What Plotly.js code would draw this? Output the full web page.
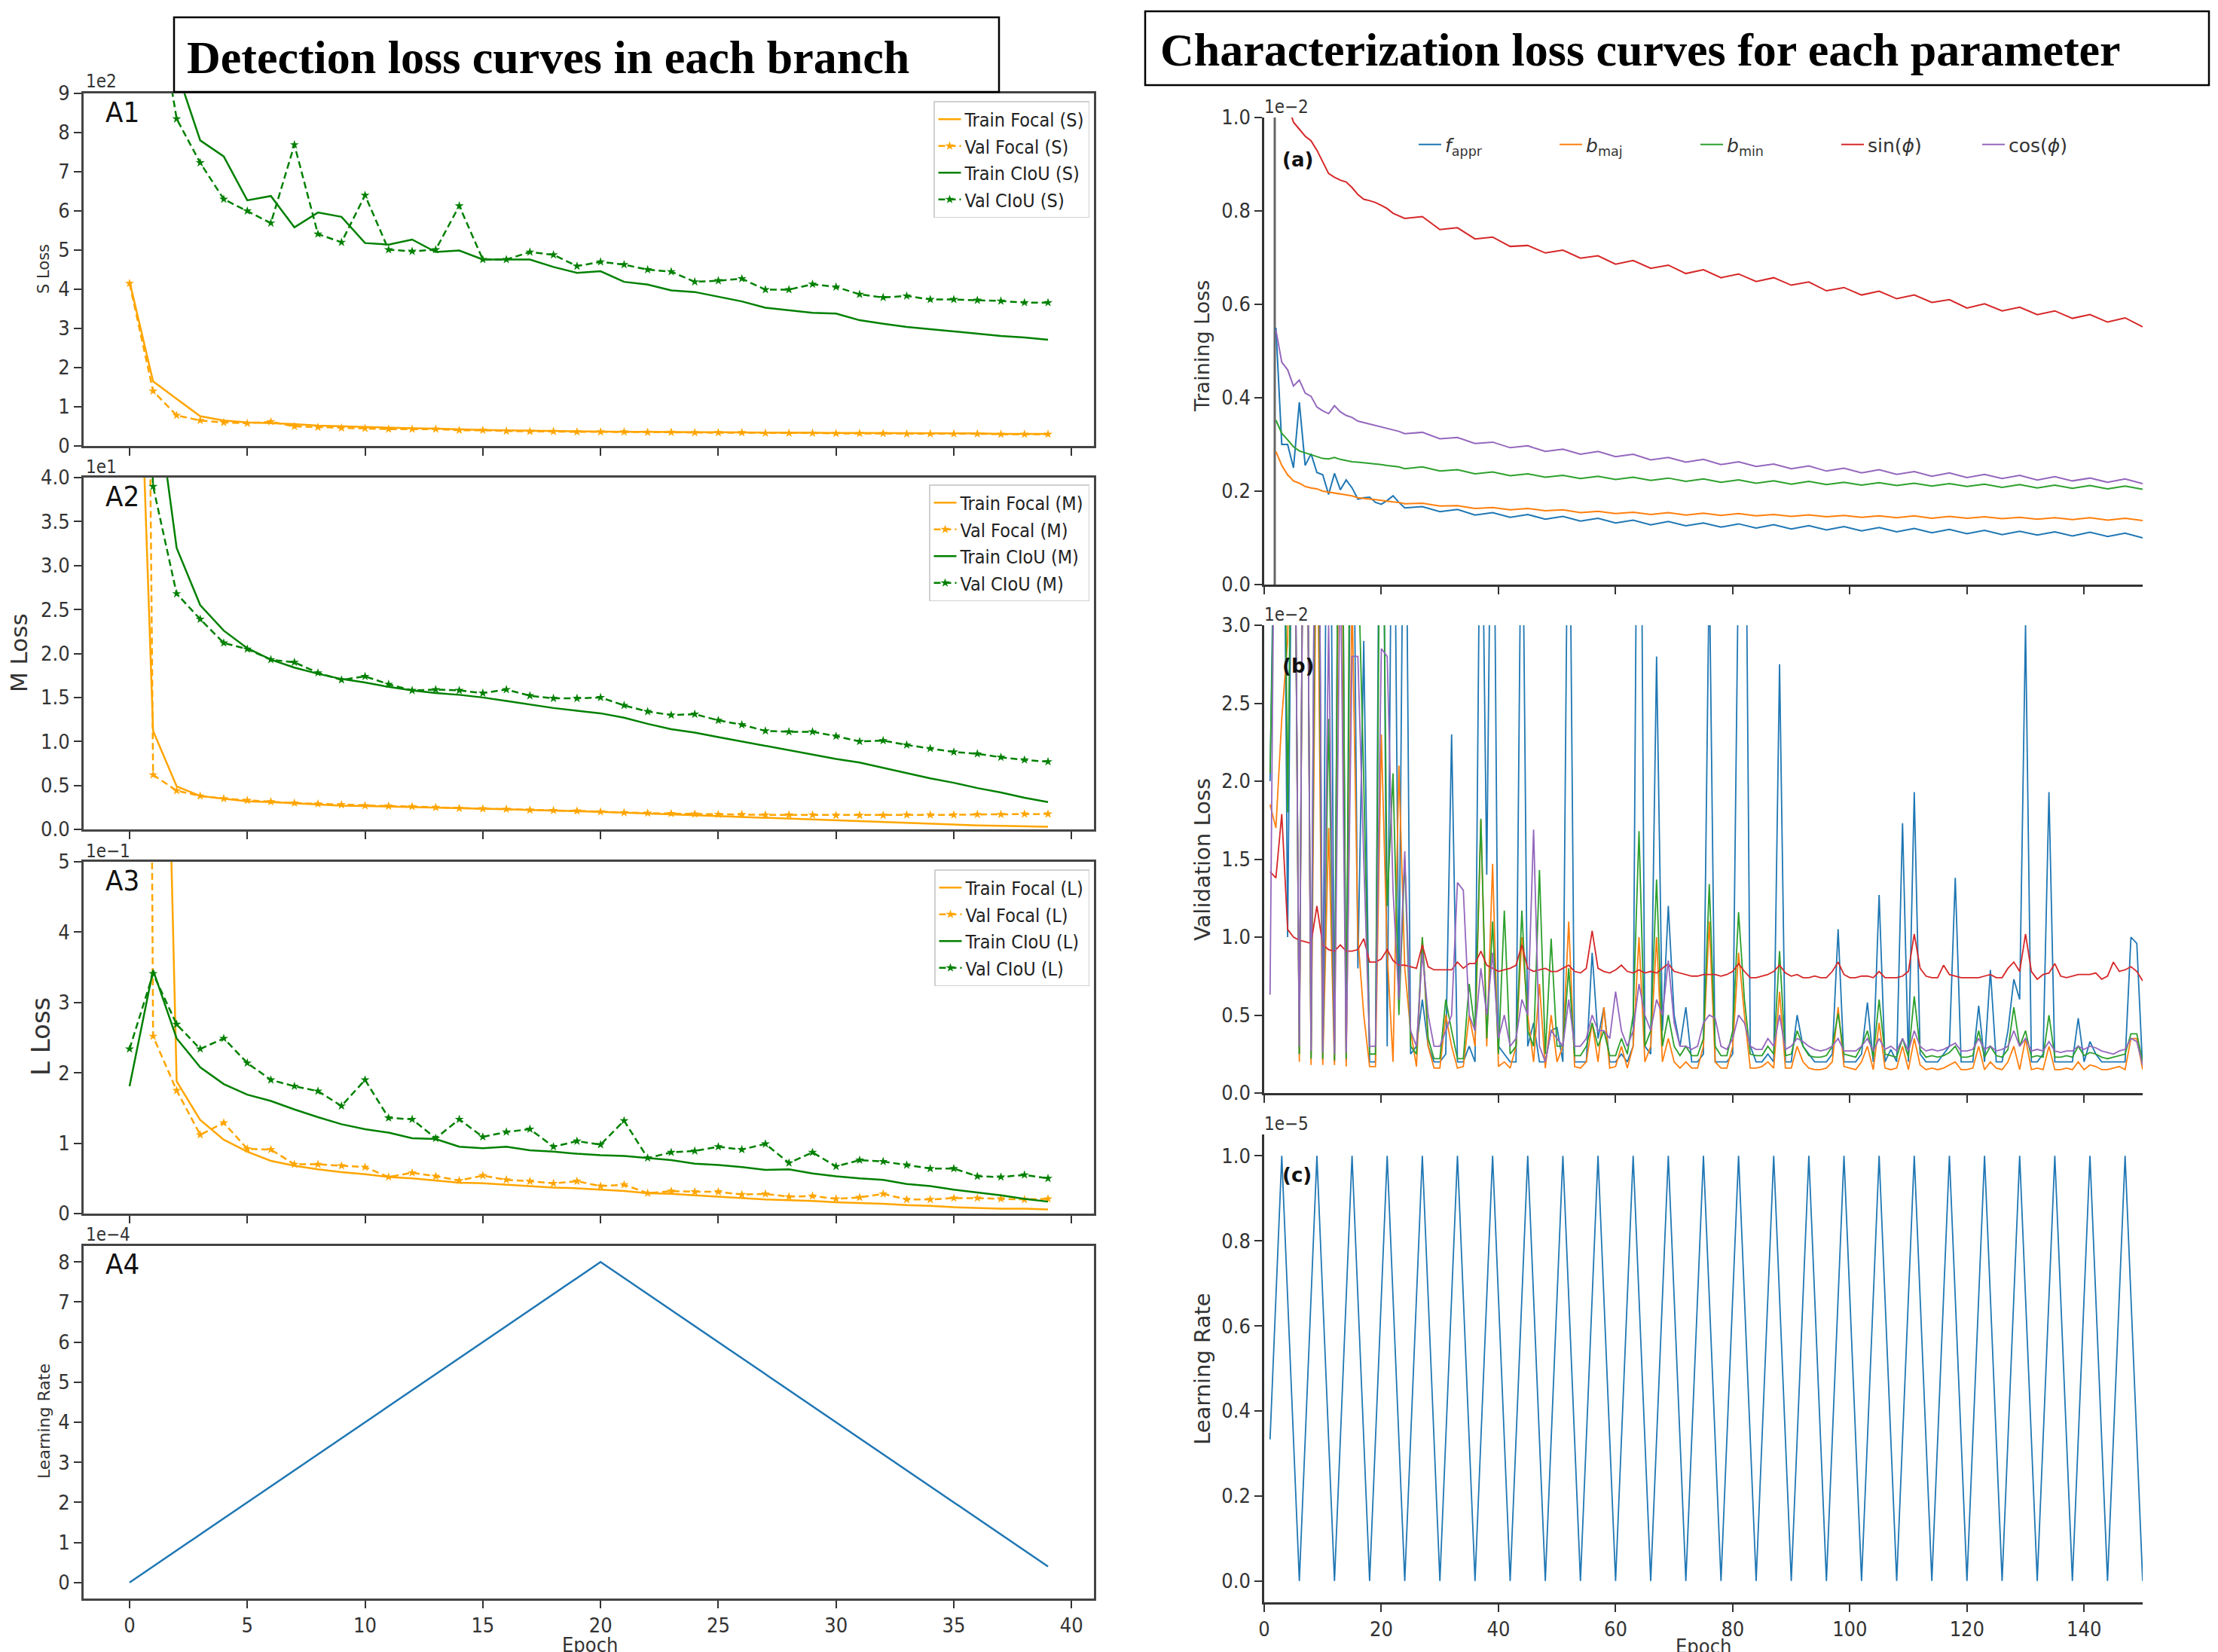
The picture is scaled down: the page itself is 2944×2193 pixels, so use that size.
<!DOCTYPE html>
<html><head><meta charset="utf-8">
<script src="https://cdn.plot.ly/plotly-3.0.1.min.js"></script>
<style>html,body{margin:0;padding:0;background:#fff;overflow:hidden}#chart{width:2944px;height:2193px}</style>
</head><body><div id="chart"></div>
<script>
// ---------------- DATA ----------------
const leftEpochs = [0,1,2,3,4,5,6,7,8,9,10,11,12,13,14,15,16,17,18,19,20,21,22,23,24,25,26,27,28,29,30,31,32,33,34,35,36,37,38,39];
const leftTickVals = [0,5,10,15,20,25,30,35,40];

// A1 : S branch (units of 1e2)
const sTrainFocal = [4.2,1.65,1.2,0.76,0.65,0.6,0.58,0.56,0.52,0.5,0.48,0.46,0.45,0.44,0.42,0.41,0.4,0.39,0.38,0.37,0.37,0.36,0.36,0.35,0.35,0.35,0.34,0.34,0.34,0.33,0.33,0.33,0.33,0.32,0.32,0.32,0.32,0.31,0.31,0.31];
const sValFocal = [4.15,1.4,0.78,0.65,0.6,0.58,0.62,0.5,0.48,0.46,0.45,0.43,0.43,0.43,0.4,0.4,0.38,0.37,0.37,0.36,0.36,0.36,0.35,0.35,0.34,0.34,0.34,0.33,0.33,0.33,0.32,0.32,0.32,0.31,0.31,0.31,0.31,0.3,0.3,0.3];
const sTrainCIoU = [14,11,9.6,7.8,7.39,6.27,6.38,5.58,5.96,5.85,5.18,5.14,5.27,4.95,4.99,4.76,4.76,4.76,4.57,4.42,4.46,4.19,4.12,3.97,3.93,3.81,3.69,3.53,3.47,3.4,3.38,3.21,3.12,3.04,2.98,2.92,2.86,2.81,2.77,2.71];
const sValCIoU = [16,12,8.35,7.23,6.3,6.0,5.69,7.69,5.41,5.2,6.4,5.01,4.97,5.01,6.13,4.76,4.76,4.95,4.88,4.59,4.7,4.63,4.5,4.45,4.19,4.22,4.27,3.99,3.99,4.13,4.06,3.87,3.79,3.83,3.74,3.74,3.72,3.7,3.66,3.66];

// A2 : M branch (units of 1e1)
const mTrainFocal = [9.0,1.12,0.49,0.38,0.35,0.32,0.31,0.295,0.286,0.27,0.265,0.26,0.25,0.245,0.24,0.235,0.23,0.22,0.215,0.21,0.2,0.19,0.18,0.17,0.16,0.15,0.14,0.13,0.12,0.11,0.1,0.09,0.08,0.07,0.06,0.05,0.045,0.04,0.035,0.03];
const mValFocal = [30,0.62,0.44,0.38,0.35,0.33,0.315,0.3,0.29,0.28,0.27,0.265,0.26,0.25,0.24,0.235,0.23,0.22,0.215,0.21,0.2,0.19,0.185,0.18,0.175,0.17,0.17,0.165,0.165,0.165,0.16,0.16,0.16,0.165,0.165,0.165,0.17,0.17,0.175,0.175];
const mTrainCIoU = [8.0,5.2,3.2,2.55,2.26,2.06,1.93,1.84,1.77,1.71,1.67,1.62,1.58,1.55,1.53,1.5,1.46,1.42,1.38,1.35,1.32,1.27,1.2,1.14,1.1,1.05,1.0,0.95,0.9,0.85,0.8,0.76,0.7,0.64,0.58,0.53,0.47,0.42,0.36,0.31];
const mValCIoU = [10,3.9,2.68,2.39,2.12,2.05,1.93,1.9,1.78,1.7,1.74,1.65,1.58,1.59,1.58,1.55,1.59,1.52,1.49,1.49,1.5,1.41,1.34,1.3,1.31,1.24,1.19,1.12,1.11,1.11,1.06,1.0,1.01,0.96,0.92,0.88,0.86,0.82,0.79,0.77];

// A3 : L branch (units of 1e-1)
const lTrainFocal = [20,16,1.88,1.33,1.05,0.88,0.75,0.68,0.63,0.59,0.56,0.52,0.5,0.47,0.44,0.43,0.41,0.39,0.37,0.36,0.34,0.32,0.29,0.28,0.26,0.24,0.22,0.2,0.19,0.18,0.16,0.15,0.14,0.12,0.11,0.09,0.08,0.07,0.07,0.06];
const lValFocal = [60,2.52,1.75,1.12,1.29,0.92,0.91,0.7,0.7,0.68,0.66,0.52,0.58,0.53,0.47,0.54,0.48,0.46,0.43,0.46,0.39,0.41,0.29,0.32,0.31,0.31,0.27,0.28,0.24,0.25,0.21,0.23,0.28,0.2,0.2,0.22,0.22,0.21,0.2,0.21];
const lTrainCIoU = [1.81,3.46,2.49,2.08,1.84,1.69,1.6,1.48,1.37,1.27,1.2,1.15,1.07,1.06,0.95,0.93,0.95,0.9,0.88,0.85,0.83,0.82,0.79,0.76,0.71,0.69,0.66,0.62,0.63,0.57,0.53,0.5,0.48,0.42,0.39,0.34,0.3,0.26,0.21,0.17];
const lValCIoU = [2.34,3.41,2.69,2.34,2.49,2.14,1.9,1.81,1.74,1.53,1.9,1.36,1.34,1.07,1.34,1.09,1.16,1.2,0.95,1.03,0.98,1.32,0.79,0.87,0.89,0.95,0.91,0.99,0.72,0.87,0.67,0.76,0.74,0.69,0.64,0.64,0.53,0.52,0.55,0.5];

// A4 : detection learning rate (units of 1e-4)
const detLR = [0,0.4,0.8,1.2,1.6,2,2.4,2.8,3.2,3.6,4,4.4,4.8,5.2,5.6,6,6.4,6.8,7.2,7.6,8,7.6,7.2,6.8,6.4,6,5.6,5.2,4.8,4.4,4,3.6,3.2,2.8,2.4,2,1.6,1.2,0.8,0.4];

// (a) characterization training loss (units of 1e-2)
const aEpochs = [2,3,4,5,6,7,8,9,10,11,12,13,14,15,16,17,18,19,20,21,22,23,24,27,30,33,36,39,42,45,48,51,54,57,60,63,66,69,72,75,78,81,84,87,90,93,96,99,102,105,108,111,114,117,120,123,126,129,132,135,138,141,144,147,150];
const aFappr = [0.55,0.30,0.30,0.25,0.39,0.255,0.28,0.24,0.235,0.193,0.238,0.203,0.224,0.207,0.183,0.186,0.187,0.176,0.172,0.18,0.19,0.176,
 0.164,0.167,0.156,0.161,0.149,0.154,0.144,0.150,0.140,0.146,0.136,0.142,0.132,0.138,0.128,0.135,0.126,0.132,0.123,0.130,0.121,0.128,0.119,0.126,0.117,0.124,0.115,0.122,0.113,0.120,0.111,0.118,0.109,0.116,0.107,0.114,0.106,0.113,0.104,0.112,0.103,0.110,0.100];
const aBmaj = [0.285,0.255,0.235,0.222,0.217,0.21,0.207,0.205,0.2,0.198,0.196,0.194,0.192,0.19,0.186,0.184,0.183,0.182,0.18,0.178,0.177,0.176,
 0.173,0.174,0.168,0.169,0.163,0.165,0.160,0.163,0.158,0.160,0.154,0.157,0.152,0.155,0.150,0.154,0.149,0.153,0.148,0.152,0.147,0.150,0.146,0.149,0.145,0.148,0.144,0.147,0.143,0.147,0.142,0.146,0.142,0.145,0.141,0.144,0.140,0.143,0.139,0.143,0.138,0.142,0.137];
const aBmin = [0.352,0.324,0.31,0.295,0.286,0.282,0.279,0.275,0.27,0.269,0.272,0.268,0.265,0.263,0.262,0.261,0.26,0.258,0.257,0.255,0.253,0.252,
 0.248,0.252,0.243,0.246,0.237,0.241,0.233,0.237,0.230,0.234,0.227,0.232,0.225,0.230,0.223,0.228,0.221,0.226,0.219,0.224,0.217,0.222,0.215,0.221,0.214,0.219,0.213,0.218,0.212,0.217,0.211,0.216,0.210,0.215,0.208,0.214,0.207,0.213,0.206,0.212,0.205,0.211,0.204];
const aSin = [1.25,1.12,1.03,0.99,0.975,0.96,0.95,0.93,0.905,0.88,0.872,0.866,0.862,0.85,0.835,0.825,0.822,0.818,0.812,0.805,0.795,0.79,
 0.784,0.788,0.760,0.764,0.740,0.744,0.724,0.726,0.710,0.716,0.699,0.704,0.686,0.694,0.677,0.684,0.666,0.674,0.657,0.665,0.649,0.657,0.641,0.648,0.629,0.636,0.620,0.628,0.612,0.620,0.604,0.610,0.592,0.601,0.586,0.594,0.578,0.586,0.570,0.578,0.562,0.571,0.552];
const aCos = [0.545,0.476,0.46,0.425,0.438,0.41,0.403,0.38,0.372,0.366,0.383,0.37,0.362,0.358,0.35,0.347,0.344,0.34,0.338,0.335,0.332,0.328,
 0.323,0.326,0.312,0.315,0.302,0.305,0.293,0.297,0.285,0.290,0.279,0.285,0.274,0.279,0.267,0.272,0.262,0.268,0.257,0.263,0.253,0.258,0.248,0.254,0.243,0.249,0.239,0.246,0.236,0.242,0.232,0.239,0.229,0.236,0.227,0.234,0.224,0.231,0.222,0.228,0.219,0.226,0.216];
const aStartEpoch = [1.8,1.8];
const aStartSpan = [0,1.0];

// (b) & (c) epochs
const epochs150 = [1,2,3,4,5,6,7,8,9,10,11,12,13,14,15,16,17,18,19,20,21,22,23,24,25,26,27,28,29,30,31,32,33,34,35,36,37,38,39,40,41,42,43,44,45,46,47,48,49,50,51,52,53,54,55,56,57,58,59,60,61,62,63,64,65,66,67,68,69,70,71,72,73,74,75,76,77,78,79,80,81,82,83,84,85,86,87,88,89,90,91,92,93,94,95,96,97,98,99,100,101,102,103,104,105,106,107,108,109,110,111,112,113,114,115,116,117,118,119,120,121,122,123,124,125,126,127,128,129,130,131,132,133,134,135,136,137,138,139,140,141,142,143,144,145,146,147,148,149,150];

// (b) validation loss (units of 1e-2)
const bFappr = [2.0,4.5,6.0,1.0,5.0,0.25,6.0,0.22,6.0,0.21,
 6.0,0.2,6.0,0.2,5.0,0.8,2.9,0.2,0.2,6.0,
 0.3,5.0,0.6,5.0,0.25,0.3,0.6,0.3,0.2,0.2,
 0.25,2.3,0.2,0.2,0.3,0.2,4.5,1.4,5.0,0.3,
 0.25,0.2,0.2,4.3,0.3,0.45,0.2,0.2,0.4,0.42,
 0.2,4.6,0.2,0.2,0.2,0.9,0.35,0.55,0.2,0.2,
 0.25,0.2,0.3,6.0,0.3,0.25,2.8,0.4,1.2,0.5,
 0.3,0.55,0.2,0.2,0.25,3.4,0.2,0.2,0.2,0.25,
 3.5,5.0,0.3,0.2,0.2,0.25,0.2,2.75,0.2,0.2,
 0.5,0.3,0.25,0.2,0.2,0.2,0.25,1.05,0.2,0.2,
 0.2,0.25,0.58,0.2,1.27,0.2,0.28,0.2,1.73,0.2,
 1.93,0.25,0.2,0.2,0.2,0.25,0.3,1.38,0.2,0.2,
 0.2,0.56,0.2,0.79,0.2,0.2,0.4,0.73,0.6,3.0,
 0.2,0.2,0.25,1.93,0.2,0.2,0.2,0.2,0.48,0.2,
 0.33,0.25,0.2,0.2,0.2,0.2,0.2,1.0,0.96,0.15];
const bBmaj = [1.85,1.7,2.4,2.9,5.0,0.2,6.0,0.18,4.0,0.18,
 1.7,0.18,5.0,0.17,3.2,1.0,0.5,0.17,0.17,2.3,
 0.9,0.2,2.1,0.8,0.4,0.17,1.0,0.3,0.16,0.16,
 0.5,0.3,0.16,0.17,0.5,0.3,1.75,0.3,1.47,0.17,
 0.2,0.16,0.3,1.0,0.5,0.2,0.7,0.16,0.5,0.2,
 0.3,1.1,0.17,0.16,0.2,0.45,0.2,0.55,0.16,0.17,
 0.3,0.16,0.3,1.0,0.2,0.3,1.0,0.2,0.35,0.2,
 0.16,0.2,0.16,0.16,0.3,1.1,0.2,0.16,0.16,0.3,
 0.9,0.5,0.16,0.16,0.17,0.2,0.16,0.65,0.16,0.16,
 0.3,0.2,0.16,0.15,0.15,0.16,0.2,0.55,0.17,0.16,
 0.15,0.2,0.3,0.15,0.45,0.16,0.15,0.16,0.3,0.15,
 0.35,0.18,0.15,0.16,0.15,0.16,0.18,0.2,0.15,0.15,
 0.16,0.3,0.15,0.2,0.16,0.15,0.2,0.3,0.15,0.35,
 0.15,0.16,0.15,0.3,0.15,0.15,0.16,0.15,0.2,0.15,
 0.18,0.17,0.15,0.15,0.16,0.17,0.15,0.35,0.35,0.15];
const bBmin = [2.05,3.5,6.0,1.8,5.0,0.25,6.0,0.22,5.0,0.22,
 2.4,0.21,6.0,0.22,6.0,3.5,2.0,0.25,0.25,5.0,
 1.2,2.05,0.5,1.5,0.3,0.25,1.0,0.35,0.22,0.22,
 0.6,0.4,0.22,0.22,0.7,0.4,1.76,0.35,1.1,0.25,
 1.17,0.25,0.3,1.17,0.4,0.3,1.43,0.25,0.99,0.3,
 0.3,0.8,0.24,0.24,0.3,0.45,0.3,0.4,0.24,0.24,
 0.35,0.25,0.5,1.68,0.3,0.4,1.37,0.3,0.5,0.3,
 0.24,0.3,0.24,0.24,0.35,1.34,0.3,0.24,0.24,0.4,
 1.16,0.6,0.25,0.24,0.24,0.3,0.25,0.91,0.24,0.25,
 0.4,0.3,0.24,0.23,0.23,0.24,0.3,0.51,0.25,0.24,
 0.23,0.3,0.4,0.23,0.6,0.25,0.24,0.23,0.35,0.23,
 0.62,0.28,0.23,0.24,0.23,0.24,0.26,0.3,0.23,0.23,
 0.24,0.4,0.23,0.3,0.24,0.23,0.28,0.55,0.3,0.4,
 0.23,0.24,0.23,0.5,0.23,0.23,0.24,0.23,0.3,0.24,
 0.26,0.25,0.23,0.22,0.23,0.24,0.25,0.38,0.38,0.2];
const bSin = [1.42,1.38,1.79,1.05,1.0,0.98,0.97,0.96,1.2,0.95,
 0.92,0.91,0.95,0.91,0.91,0.92,0.99,0.84,0.84,0.86,
 0.92,0.85,0.82,0.82,0.81,0.8,0.95,0.81,0.79,0.79,
 0.79,0.79,0.84,0.8,0.83,0.83,0.91,0.82,0.8,0.78,
 0.79,0.8,0.82,0.95,0.8,0.78,0.79,0.8,0.78,0.78,
 0.8,0.82,0.78,0.77,0.8,1.04,0.8,0.78,0.77,0.79,
 0.82,0.78,0.77,0.79,0.77,0.78,0.77,0.8,0.83,0.78,
 0.77,0.76,0.75,0.75,0.76,0.76,0.76,0.75,0.76,0.78,
 0.83,0.78,0.74,0.74,0.75,0.76,0.78,0.82,0.77,0.75,
 0.76,0.74,0.74,0.75,0.74,0.74,0.78,0.84,0.76,0.74,
 0.74,0.75,0.75,0.74,0.78,0.74,0.74,0.74,0.75,0.78,
 1.02,0.8,0.75,0.74,0.74,0.82,0.76,0.75,0.74,0.74,
 0.74,0.74,0.75,0.76,0.74,0.74,0.8,0.84,0.78,1.02,
 0.78,0.73,0.76,0.77,0.83,0.75,0.74,0.75,0.76,0.76,
 0.76,0.77,0.73,0.75,0.84,0.78,0.79,0.81,0.78,0.72];
const bCos = [0.63,5.0,6.0,5.0,5.0,0.3,6.0,0.27,6.0,0.26,
 3.0,0.25,3.5,0.26,2.8,2.8,1.5,0.3,0.3,2.85,
 2.8,1.3,0.6,1.55,0.4,0.3,0.9,0.5,0.3,0.3,
 0.4,0.5,1.35,1.3,0.5,0.4,0.8,0.5,0.9,0.35,
 0.5,0.3,0.35,0.6,0.5,1.69,0.3,0.2,0.4,0.35,
 0.3,0.6,0.3,0.3,0.35,0.5,0.4,0.4,0.35,0.65,
 0.4,0.3,0.4,0.7,0.5,0.4,0.6,0.5,0.85,0.45,
 0.3,0.3,0.28,0.3,0.45,0.5,0.48,0.3,0.28,0.35,
 0.5,0.45,0.3,0.28,0.28,0.35,0.3,0.5,0.28,0.3,
 0.35,0.33,0.3,0.28,0.27,0.28,0.3,0.35,0.27,0.27,
 0.27,0.3,0.35,0.27,0.35,0.28,0.3,0.27,0.35,0.27,
 0.4,0.3,0.27,0.28,0.27,0.28,0.3,0.32,0.27,0.27,
 0.28,0.35,0.28,0.3,0.27,0.28,0.3,0.4,0.3,0.35,
 0.27,0.28,0.27,0.33,0.27,0.26,0.27,0.27,0.3,0.28,
 0.3,0.29,0.27,0.26,0.25,0.27,0.28,0.35,0.33,0.18];

// (c) characterization learning rate (units of 1e-5)
const cLR = [0.333,0.667,1,0.667,0.333,0, 0.333,0.667,1,0.667,0.333,0, 0.333,0.667,1,0.667,0.333,0, 0.333,0.667,1,0.667,0.333,0, 0.333,0.667,1,0.667,0.333,0,
 0.333,0.667,1,0.667,0.333,0, 0.333,0.667,1,0.667,0.333,0, 0.333,0.667,1,0.667,0.333,0, 0.333,0.667,1,0.667,0.333,0, 0.333,0.667,1,0.667,0.333,0,
 0.333,0.667,1,0.667,0.333,0, 0.333,0.667,1,0.667,0.333,0, 0.333,0.667,1,0.667,0.333,0, 0.333,0.667,1,0.667,0.333,0, 0.333,0.667,1,0.667,0.333,0,
 0.333,0.667,1,0.667,0.333,0, 0.333,0.667,1,0.667,0.333,0, 0.333,0.667,1,0.667,0.333,0, 0.333,0.667,1,0.667,0.333,0, 0.333,0.667,1,0.667,0.333,0,
 0.333,0.667,1,0.667,0.333,0, 0.333,0.667,1,0.667,0.333,0, 0.333,0.667,1,0.667,0.333,0, 0.333,0.667,1,0.667,0.333,0, 0.333,0.667,1,0.667,0.333,0];

const rightTickVals = [0,20,40,60,80,100,120,140];
const charNames = ['<i>f</i><sub>appr</sub>','<i>b</i><sub>maj</sub>','<i>b</i><sub>min</sub>','sin(<i>ϕ</i>)','cos(<i>ϕ</i>)'];

// ---------------- STYLE ----------------
const W = 2944, H = 2193;
const px = p => p / W;
const py = p => 1 - p / H;
const FONT = 'DejaVu Sans Condensed, Liberation Sans Narrow, DejaVu Sans, sans-serif';
const FONT2 = 'DejaVu Sans, sans-serif';
const SERIF = 'Liberation Serif, DejaVu Serif, serif';
const ORANGE = '#FFA500', GREEN = '#008000';
const TAB = ['#1f77b4','#ff7f0e','#2ca02c','#d62728','#9467bd'];
const tickFont = {family: FONT, size: 27, color: '#333'};

const traces = [];
function branch(n, lg, tag, tf, vf, tc, vc) {
  const xa = n === 1 ? 'x' : 'x' + n, ya = n === 1 ? 'y' : 'y' + n;
  const base = {x: leftEpochs, xaxis: xa, yaxis: ya, legend: lg};
  traces.push(Object.assign({}, base, {y: tf, mode: 'lines', name: 'Train Focal (' + tag + ')', line: {color: ORANGE, width: 2.5}}));
  traces.push(Object.assign({}, base, {y: vf, mode: 'lines+markers', name: 'Val Focal (' + tag + ')', line: {color: ORANGE, width: 2.5, dash: '9px,5px'}, marker: {symbol: 'star', size: 9, color: ORANGE}}));
  traces.push(Object.assign({}, base, {y: tc, mode: 'lines', name: 'Train CIoU (' + tag + ')', line: {color: GREEN, width: 2.5}}));
  traces.push(Object.assign({}, base, {y: vc, mode: 'lines+markers', name: 'Val CIoU (' + tag + ')', line: {color: GREEN, width: 2.5, dash: '9px,5px'}, marker: {symbol: 'star', size: 9, color: GREEN}}));
}
branch(1, 'legend', 'S', sTrainFocal, sValFocal, sTrainCIoU, sValCIoU);
branch(2, 'legend2', 'M', mTrainFocal, mValFocal, mTrainCIoU, mValCIoU);
branch(3, 'legend3', 'L', lTrainFocal, lValFocal, lTrainCIoU, lValCIoU);
traces.push({x: leftEpochs, y: detLR, xaxis: 'x4', yaxis: 'y4', mode: 'lines', line: {color: TAB[0], width: 2.5}, showlegend: false});

traces.push({x: aStartEpoch, y: aStartSpan, xaxis: 'x5', yaxis: 'y5', mode: 'lines', line: {color: '#666', width: 3}, showlegend: false, hoverinfo: 'skip'});
[aFappr, aBmaj, aBmin, aSin, aCos].forEach((s, i) => {
  traces.push({x: aEpochs, y: s, xaxis: 'x5', yaxis: 'y5', mode: 'lines', name: charNames[i], line: {color: TAB[i], width: 2}, legend: 'legend4'});
});
[bFappr, bBmaj, bBmin, bSin, bCos].forEach((s, i) => {
  traces.push({x: epochs150, y: s, xaxis: 'x6', yaxis: 'y6', mode: 'lines', name: charNames[i], line: {color: TAB[i], width: 1.8}, showlegend: false});
});
traces.push({x: epochs150, y: cLR, xaxis: 'x7', yaxis: 'y7', mode: 'lines', line: {color: TAB[0], width: 1.8}, showlegend: false});

// ---------------- AXES ----------------
const LX = [px(111), px(1452)], RX = [px(1678), px(2844)];
function leftX(n, labels) {
  return {domain: LX, anchor: n === 1 ? 'y' : 'y' + n, range: [-1.95, 40.95], tickmode: 'array', tickvals: leftTickVals,
    showticklabels: labels, ticks: 'outside', ticklen: 10, tickwidth: 2, tickcolor: '#333', showline: true, linecolor: '#444',
    linewidth: 3, mirror: true, showgrid: false, zeroline: false, tickfont: tickFont, automargin: false};
}
function leftY(n, top, bottom, range, vals, fmt) {
  return {domain: [py(bottom), py(top)], anchor: n === 1 ? 'x' : 'x' + n, range: range, tickmode: 'array', tickvals: vals,
    tickformat: fmt, ticks: 'outside', ticklen: 10, tickwidth: 2, tickcolor: '#333', showline: true, linecolor: '#444',
    linewidth: 3, mirror: true, showgrid: false, zeroline: false, tickfont: tickFont, automargin: false};
}
function rightX(n, labels) {
  return {domain: RX, anchor: 'y' + n, range: [0, 150], tickmode: 'array', tickvals: rightTickVals, showticklabels: labels,
    ticks: 'outside', ticklen: 10, tickwidth: 2, tickcolor: '#333', showline: true, linecolor: '#333', linewidth: 2.5,
    mirror: false, showgrid: false, zeroline: false, tickfont: tickFont, automargin: false};
}
function rightY(n, top, bottom, range, vals) {
  return {domain: [py(bottom), py(top)], anchor: 'x' + n, range: range, tickmode: 'array', tickvals: vals, tickformat: '.1f',
    ticks: 'outside', ticklen: 10, tickwidth: 2, tickcolor: '#333', showline: true, linecolor: '#333', linewidth: 2.5,
    mirror: false, showgrid: false, zeroline: false, tickfont: tickFont, automargin: false};
}

const legendBase = {xanchor: 'right', yanchor: 'top', bgcolor: 'rgba(255,255,255,0.85)', bordercolor: '#d0d0d0', borderwidth: 1.5,
  font: {family: FONT, size: 25, color: '#222'}, tracegroupgap: 0};

// ---------------- ANNOTATIONS ----------------
const ann = [];
function txt(text, x, y, opts) {
  ann.push(Object.assign({xref: 'paper', yref: 'paper', x: px(x), y: py(y), text: text, showarrow: false,
    xanchor: 'left', yanchor: 'middle', font: {family: FONT, size: 24, color: '#333'}}, opts || {}));
}
// Big titles
txt('<b>Detection loss curves in each branch</b>', 246, 76, {font: {family: SERIF, size: 62, color: '#000'}});
txt('<b>Characterization loss curves for each parameter</b>', 1538, 66, {font: {family: SERIF, size: 62, color: '#000'}});
// Panel labels
txt('A1', 138, 149, {font: {family: FONT, size: 38, color: '#111'}});
txt('A2', 138, 659, {font: {family: FONT, size: 38, color: '#111'}});
txt('A3', 138, 1169, {font: {family: FONT, size: 38, color: '#111'}});
txt('A4', 138, 1678, {font: {family: FONT, size: 38, color: '#111'}});
txt('<b>(a)</b>', 1700, 212, {font: {family: FONT2, size: 26, color: '#111'}});
txt('<b>(b)</b>', 1700, 884, {font: {family: FONT2, size: 26, color: '#111'}});
txt('<b>(c)</b>', 1700, 1560, {font: {family: FONT2, size: 26, color: '#111'}});
// Offset (exponent) labels
txt('1e2', 112, 108);
txt('1e1', 112, 620);
txt('1e\u22121', 112, 1130);
txt('1e\u22124', 112, 1639);
txt('1e\u22122', 1676, 142);
txt('1e\u22122', 1676, 816);
txt('1e\u22125', 1676, 1492);
// Axis titles
function ytitle(text, x, y, size) {
  ann.push({xref: 'paper', yref: 'paper', x: px(x), y: py(y), text: text, showarrow: false, textangle: -90,
    xanchor: 'center', yanchor: 'middle', font: {family: FONT2, size: size, color: '#333'}});
}
ytitle('S Loss', 58, 357, 21);
ytitle('M Loss', 25, 867, 31);
ytitle('L Loss', 54, 1376, 34);
ytitle('Learning Rate', 58, 1887, 22);
ytitle('Training Loss', 1596, 460, 27);
ytitle('Validation Loss', 1596, 1141, 29);
ytitle('Learning Rate', 1596, 1817, 29);
txt('Epoch', 783, 2166, {xanchor: 'center', yanchor: 'top', font: {family: FONT, size: 27, color: '#333'}});
txt('Epoch', 2261, 2168, {xanchor: 'center', yanchor: 'top', font: {family: FONT, size: 27, color: '#333'}});

const layout = {
  width: W, height: H, autosize: false,
  margin: {l: 0, r: 0, t: 0, b: 0, pad: 0, autoexpand: false},
  paper_bgcolor: '#fff', plot_bgcolor: '#fff',
  font: {family: FONT, color: '#333'},
  xaxis: leftX(1, false), yaxis: leftY(1, 124, 592, [0, 9], [0,1,2,3,4,5,6,7,8,9], 'd'),
  xaxis2: leftX(2, false), yaxis2: leftY(2, 634, 1101, [0, 4], [0,0.5,1,1.5,2,2.5,3,3.5,4], '.1f'),
  xaxis3: leftX(3, false), yaxis3: leftY(3, 1144, 1611, [0, 5], [0,1,2,3,4,5], 'd'),
  xaxis4: leftX(4, true), yaxis4: leftY(4, 1654, 2122, [-0.4, 8.4], [0,1,2,3,4,5,6,7,8], 'd'),
  xaxis5: rightX(5, false), yaxis5: rightY(5, 156, 776, [0, 1.0], [0,0.2,0.4,0.6,0.8,1.0]),
  xaxis6: rightX(6, false), yaxis6: rightY(6, 830, 1451, [0, 3.0], [0,0.5,1,1.5,2,2.5,3]),
  xaxis7: rightX(7, true), yaxis7: rightY(7, 1506, 2127, [-0.05, 1.05], [0,0.2,0.4,0.6,0.8,1.0]),
  legend: Object.assign({}, legendBase, {x: px(1446), y: py(134)}),
  legend2: Object.assign({}, legendBase, {x: px(1446), y: py(643)}),
  legend3: Object.assign({}, legendBase, {x: px(1446), y: py(1154)}),
  legend4: {orientation: 'h', x: px(1878), y: py(192), xanchor: 'left', yanchor: 'middle', bgcolor: 'rgba(255,255,255,0)',
    borderwidth: 0, font: {family: FONT2, size: 25, color: '#333'}, entrywidth: 142, entrywidthmode: 'pixels'},
  shapes: [
    {type: 'rect', xref: 'paper', yref: 'paper', x0: px(231), x1: px(1326), y0: py(122), y1: py(23), line: {color: '#000', width: 2.5}},
    {type: 'rect', xref: 'paper', yref: 'paper', x0: px(1520), x1: px(2932), y0: py(113), y1: py(15), line: {color: '#000', width: 2.5}}
  ],
  annotations: ann,
  showlegend: true
};

Plotly.newPlot('chart', traces, layout, {displayModeBar: false, responsive: false});
</script></body></html>
